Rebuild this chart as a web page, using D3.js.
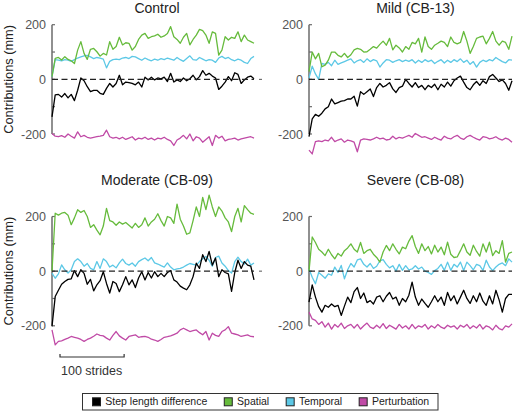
<!DOCTYPE html>
<html><head><meta charset="utf-8">
<script src="https://cdn.jsdelivr.net/npm/d3@7"></script>
<style>
html,body{margin:0;padding:0;background:#fff;}
svg{display:block;font-family:"Liberation Sans",Arial,Helvetica,sans-serif;}
</style></head>
<body>
<svg id="chart" width="520" height="412"></svg>
<script>
// ---- data (values in mm, one sample every 5 strides) ----
const strideStep = 5;
const seriesNames = ["Step length difference","Spatial","Temporal","Perturbation"];
const seriesColors = ["#000000","#66bb3c","#5cc8e6","#c04aa6"];
const panelTitles = ["Control","Mild (CB-13)","Moderate (CB-09)","Severe (CB-08)"];
const yTicks = [-200,0,200];
const yMinorTicks = [-100,100];

const controlStep = [-137,-57,-55,-65,-52,-68,-55,-78,-40,5,-5,-27,-45,-40,-40,-51,
 -55,-33,-15,-28,-15,15,-20,-10,-12,-15,-20,-10,-28,8,-2,8,
 -2,5,2,8,-8,22,-10,-2,-8,5,-5,2,15,-2,10,32,
 15,22,12,5,-37,-25,-10,10,-5,24,18,-15,-2,8,12,2];
const controlSpatial = [10,77,80,71,83,73,68,58,107,138,95,73,110,113,101,85,
 95,89,138,110,120,154,126,134,132,107,120,146,162,168,150,156,
 159,165,154,159,168,193,156,146,132,154,168,126,146,162,183,178,
 162,132,174,168,89,107,156,144,154,150,174,138,162,144,138,132];
const controlTemporal = [10,72,70,68,72,70,66,72,78,82,86,88,82,76,80,78,
 74,42,66,72,74,72,78,80,76,84,82,76,70,78,72,68,
 74,70,76,72,78,74,70,80,72,66,76,86,72,70,80,74,
 68,72,70,62,78,84,76,80,72,68,74,70,62,58,76,84];
const controlPert = [-198,-208,-210,-206,-212,-200,-208,-215,-192,-210,-205,-212,-215,-212,-210,-208,
 -205,-186,-210,-215,-212,-218,-212,-220,-215,-210,-222,-215,-218,-212,-220,-215,
 -222,-215,-218,-212,-220,-225,-242,-222,-215,-205,-218,-200,-225,-210,-215,-230,
 -220,-210,-242,-205,-215,-208,-225,-220,-218,-215,-222,-218,-215,-212,-210,-215];

const mildStep = [-210,-145,-128,-135,-124,-108,-100,-72,-90,-85,-80,-78,-72,-72,-62,-98,
 -45,-55,-45,-35,-63,-30,-15,-28,-22,-12,-35,-48,-30,-25,0,-15,
 -28,-12,-30,-22,-38,-22,-30,-18,-38,-18,-28,-10,-25,-5,5,12,
 -10,-30,-38,-20,-8,-22,-5,-15,10,18,5,-8,-2,-15,-40,-5];
const mildSpatial = [28,100,75,95,46,52,70,100,100,88,82,95,80,90,108,113,
 110,100,101,110,120,114,128,140,125,150,108,125,115,100,120,110,
 135,130,150,100,155,120,110,125,132,140,135,120,155,135,130,135,
 175,140,95,120,150,155,158,130,150,175,140,125,140,135,110,158];
const mildTemporal = [5,48,20,0,58,55,62,50,70,55,60,65,70,75,60,68,
 72,62,75,65,72,68,45,60,72,70,62,68,72,65,70,66,
 72,60,70,62,72,65,70,58,66,72,60,70,62,72,65,75,
 62,70,55,65,45,62,70,65,72,68,80,72,65,60,72,70];
const mildPert = [-259,-273,-228,-225,-228,-222,-225,-212,-228,-222,-218,-230,-222,-225,-230,-265,
 -222,-218,-220,-222,-218,-212,-218,-215,-222,-220,-208,-218,-212,-215,-210,-205,
 -212,-198,-205,-212,-210,-215,-220,-212,-218,-222,-208,-215,-218,-210,-205,-215,
 -220,-210,-205,-212,-218,-222,-210,-212,-218,-215,-210,-218,-222,-215,-220,-230];

const moderateStep = [-202,-93,-70,-48,-38,-30,-28,2,-20,5,-8,-48,-30,-72,-50,-35,
 -2,-45,-80,-38,-45,-75,-50,-20,-50,-32,-60,-25,-2,-32,-5,-25,
 -2,-20,-8,-20,-5,2,-32,-40,-55,-62,-68,-50,-20,29,10,60,
 35,72,22,48,-20,5,-5,-10,-74,-5,40,10,35,22,18,-32];
const moderateSpatial = [0,212,205,212,215,205,170,195,225,215,222,200,160,170,150,133,
 165,230,185,180,168,180,172,178,168,158,175,160,170,195,165,180,
 190,210,185,165,200,195,175,245,190,165,135,140,185,235,200,270,
 225,278,235,200,235,220,195,180,145,200,230,180,240,225,212,208];
const moderateTemporal = [-7,-26,-10,23,5,-7,5,35,45,35,18,28,10,5,35,10,
 45,35,15,22,12,30,44,28,22,30,18,35,42,48,38,50,
 30,26,20,15,30,15,5,8,10,15,22,28,25,22,35,45,
 54,40,18,50,55,30,18,2,-7,35,51,35,26,44,22,30];
const moderatePert = [-215,-270,-257,-255,-250,-245,-239,-242,-245,-250,-257,-250,-245,-238,-230,-235,
 -237,-245,-252,-235,-221,-237,-245,-252,-239,-236,-233,-242,-240,-239,-242,-249,
 -252,-257,-250,-242,-240,-237,-232,-227,-215,-209,-215,-221,-218,-215,-225,-233,
 -221,-252,-227,-235,-239,-221,-215,-203,-227,-230,-233,-239,-236,-233,-239,-240];

const severeStep = [-113,-50,-95,-130,-150,-125,-132,-120,-130,-125,-162,-128,-95,-115,-75,-60,
 -100,-80,-115,-108,-120,-95,-90,-112,-92,-78,-102,-95,-125,-100,-112,-88,
 -40,-95,-125,-102,-118,-132,-112,-90,-112,-95,-125,-78,-108,-90,-120,-95,
 -70,-100,-118,-90,-112,-80,-110,-125,-90,-120,-70,-105,-150,-100,-85,-85];
const severeSpatial = [0,125,105,80,70,57,80,60,45,65,55,75,85,100,80,70,
 105,65,75,80,62,50,33,70,94,75,100,80,63,88,82,110,
 130,90,65,100,75,90,63,95,70,88,60,106,62,50,52,75,
 100,70,58,95,72,55,100,70,106,57,75,65,112,33,65,70];
const severeTemporal = [8,-22,-46,-5,-15,-26,-10,-15,15,-5,21,-28,5,28,15,41,
 45,25,15,28,10,18,38,42,25,12,20,0,25,3,20,5,
 8,20,8,15,0,-5,-12,2,10,25,3,33,3,25,15,33,
 2,33,20,5,25,20,3,40,15,2,15,25,30,20,45,33];
const severePert = [-150,-175,-180,-195,-185,-205,-190,-212,-195,-205,-190,-210,-200,-195,-208,-195,
 -212,-200,-190,-205,-210,-198,-208,-192,-210,-198,-205,-212,-195,-208,-200,-212,
 -195,-210,-200,-205,-195,-212,-200,-208,-195,-205,-210,-198,-205,-200,-212,-198,
 -205,-195,-210,-200,-208,-195,-212,-200,-205,-215,-198,-210,-215,-200,-205,-193];

const panelSeries = [
  [controlStep, controlSpatial, controlTemporal, controlPert],
  [mildStep, mildSpatial, mildTemporal, mildPert],
  [moderateStep, moderateSpatial, moderateTemporal, moderatePert],
  [severeStep, severeSpatial, severeTemporal, severePert]
];

// ---- layout ----
const svg = d3.select("#chart");
const colX = [[52,254],[309,512]];
const rowY = [[134,24.7],[325.8,216.5]];
const titleY = [12.5, 184.5];
const titleX = [157, 415.5];

panelTitles.forEach((title, p) => {
  const col = p % 2, row = Math.floor(p / 2);
  const data = panelSeries[p];
  const n = data[0].length;
  const x = d3.scaleLinear().domain([0, (n - 1) * strideStep]).range(colX[col]);
  const y = d3.scaleLinear().domain([-200, 200]).range(rowY[row]);
  const g = svg.append("g");

  // axis line
  g.append("line").attr("x1", x(0)).attr("x2", x(0))
    .attr("y1", y(-200)).attr("y2", y(200))
    .attr("stroke", "#6b6b6b").attr("stroke-width", 1.5);
  // ticks (inward)
  yTicks.concat(yMinorTicks).forEach(t => {
    g.append("line").attr("x1", x(0)).attr("x2", x(0) + 3)
      .attr("y1", y(t)).attr("y2", y(t))
      .attr("stroke", "#6b6b6b").attr("stroke-width", 1.2);
  });
  yTicks.forEach(t => {
    g.append("text").attr("x", x(0) - 6).attr("y", y(t)).attr("dy", "0.36em")
      .attr("text-anchor", "end").attr("font-size", 12.5).attr("fill", "#555")
      .text(t);
  });
  // y label
  if (col === 0) {
    g.append("text").attr("transform", `translate(12.5,${y(0)}) rotate(-90)`)
      .attr("text-anchor", "middle").attr("font-size", 12.8).attr("fill", "#222")
      .text("Contributions (mm)");
  } else {
    g.append("line").attr("x1", 259).attr("x2", 262).attr("y1", y(0)).attr("y2", y(0))
      .attr("stroke", "#555").attr("stroke-width", 1);
  }
  // title
  g.append("text").attr("x", titleX[col]).attr("y", titleY[row])
    .attr("text-anchor", "middle").attr("font-size", 14).attr("fill", "#222")
    .text(title);

  // series: draw order temporal, spatial, perturbation, step
  const order = [2, 1, 3, 0];
  const line = d3.line().x((d, i) => x(i * strideStep)).y(d => y(d));
  order.forEach(s => {
    g.append("path").datum(data[s]).attr("d", line)
      .attr("fill", "none").attr("stroke", seriesColors[s])
      .attr("stroke-width", 1.3).attr("stroke-linejoin", "round");
  });
  // zero dashed line
  g.append("line").attr("x1", x(0)).attr("x2", x((n - 1) * strideStep))
    .attr("y1", y(0)).attr("y2", y(0))
    .attr("stroke", "#222").attr("stroke-width", 1.1).attr("stroke-dasharray", "6,3.5");
});

// scale bar: 100 strides
{
  const n = controlStep.length;
  const x = d3.scaleLinear().domain([0, (n - 1) * strideStep]).range(colX[0]);
  const x0 = x(0) + 8, x1 = x0 + (x(100) - x(0));
  const yb = 357;
  svg.append("path").attr("d", `M${x0},${yb - 3}V${yb}H${x1}V${yb - 3}`)
    .attr("fill", "none").attr("stroke", "#333").attr("stroke-width", 1.2);
  svg.append("text").attr("x", x0 + 1).attr("y", 374.5).attr("font-size", 12.5)
    .attr("fill", "#333").text("100 strides");
}

// legend
{
  const lg = svg.append("g");
  lg.append("rect").attr("x", 82.5).attr("y", 393.5).attr("width", 355.5).attr("height", 16.5)
    .attr("fill", "#fff").attr("stroke", "#333").attr("stroke-width", 1);
  let cx = 92.5;
  seriesNames.forEach((name, i) => {
    lg.append("rect").attr("x", cx).attr("y", 397.8).attr("width", 8).attr("height", 8)
      .attr("fill", seriesColors[i]).attr("stroke", "#222").attr("stroke-width", 1);
    const t = lg.append("text").attr("x", cx + 12.8).attr("y", 405.2).attr("font-size", 10.5)
      .attr("fill", "#222").text(name);
    cx += 12.8 + t.node().getComputedTextLength() + 17;
  });
}
</script>
</body></html>
